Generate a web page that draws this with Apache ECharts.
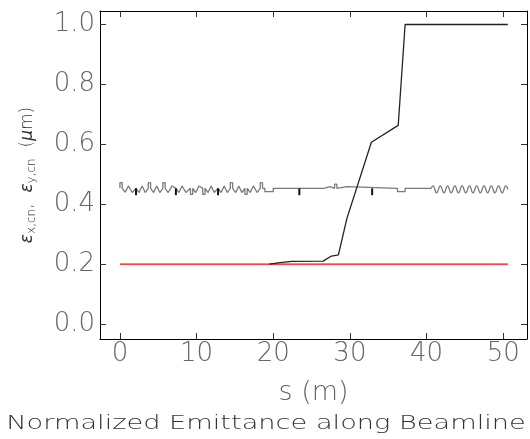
<!DOCTYPE html>
<html><head><meta charset="utf-8">
<script src="https://cdn.jsdelivr.net/npm/echarts@6/dist/echarts.min.js"></script>
<style>html,body{margin:0;padding:0;background:#fff}#c{width:530px;height:439px}</style>
</head><body><div id="c"></div>
<script>
// tick labels
const xTicks = [0, 10, 20, 30, 40, 50];
const yTicks = [0.0, 0.2, 0.4, 0.6, 0.8, 1.0];
// emittance series [s (m), value (um)]
const epsX = [[19.5,0.200],[20.9,0.205],[22.4,0.209],[26.5,0.210],[27.6,0.227],[28.5,0.231],[29.6,0.352],[32.8,0.607],[36.3,0.663],[37.2,1.000],[50.6,1.000]];
const epsY = [[0,0.200],[50.6,0.200]];
// beamline profile (gray)
const profile = [[0,0.453],[0,0.472],[0.3,0.472],[0.3,0.453],
[0.7,0.440],[1.1,0.461],[1.6,0.439],[2.1,0.453],
[2.5,0.439],[2.9,0.461],[3.3,0.439],[3.7,0.453],
[3.7,0.472],[4.0,0.472],[4.0,0.453],
[4.4,0.439],[4.8,0.461],[5.2,0.439],[5.6,0.453],
[5.6,0.472],[5.9,0.472],[5.9,0.453],
[6.3,0.439],[6.8,0.461],[7.3,0.453],
[7.7,0.439],[8.1,0.461],[8.6,0.439],[9.2,0.453],
[9.2,0.433],[9.5,0.433],[9.5,0.453],
[9.9,0.439],[10.3,0.461],[10.8,0.453],
[10.8,0.433],[11.1,0.433],[11.1,0.453],
[11.5,0.439],[11.9,0.461],[12.3,0.439],[12.8,0.453],
[13.2,0.439],[13.6,0.461],[14.0,0.439],[14.4,0.453],
[14.4,0.472],[14.7,0.472],[14.7,0.453],
[15.1,0.439],[15.5,0.461],[15.9,0.439],[16.3,0.453],
[16.3,0.433],[16.6,0.433],[16.6,0.453],
[17.0,0.439],[17.4,0.461],[17.9,0.439],[18.3,0.453],
[18.3,0.472],[18.6,0.472],[18.6,0.453],
[18.9,0.453],[18.9,0.442],[20.0,0.442],[20.0,0.453],
[26.6,0.453],[26.6,0.459],[27.4,0.459],[27.4,0.453],
[28.0,0.453],[28.0,0.467],[28.3,0.467],[28.3,0.453],
[28.5,0.453],[28.5,0.459],[29.6,0.459],[29.6,0.453],
[36.2,0.453],[36.2,0.442],[37.2,0.442],[37.2,0.453],
[40.6,0.453]];
const wiggle = [[40.6,0.453],[40.84,0.461],[41.31,0.438],[41.79,0.461],[42.26,0.438],[42.74,0.461],[43.21,0.438],[43.69,0.461],[44.16,0.438],[44.64,0.461],[45.11,0.438],[45.59,0.461],[46.06,0.438],[46.54,0.461],[47.01,0.438],[47.49,0.461],[47.96,0.438],[48.44,0.461],[48.91,0.438],[49.39,0.461],[49.86,0.438],[50.34,0.461],[50.6,0.449]];
// black markers on beamline: [s, top, bottom]
const markers = [[2.1,0.453,0.430],[7.3,0.453,0.430],[12.8,0.453,0.430],[23.4,0.453,0.430],[32.9,0.453,0.430]];

const FONT = 'DejaVu Sans';
const TXT = '#666';
const chart = echarts.init(document.getElementById('c'), null, {renderer:'canvas'});
const xRange = {min:-2.6, max:53.1};
const yRange = {min:-0.05, max:1.045};
const tickStyle = {show:true, inside:true, length:6, lineStyle:{color:'#333', width:1}};
chart.setOption({
  animation:false,
  grid:{left:100, right:3, top:11, bottom:100},
  xAxis:[{type:'value', ...xRange, position:'bottom',
    axisLine:{show:true, onZero:false, lineStyle:{color:'#000', width:1}},
    axisTick:{...tickStyle, customValues:xTicks},
    axisLabel:{customValues:xTicks, fontFamily:FONT, fontWeight:200, fontSize:26, color:TXT, margin:2},
    splitLine:{show:false},
    name:'s (m)', nameLocation:'middle', nameGap:40,
    nameTextStyle:{fontFamily:FONT, fontWeight:200, fontSize:27, color:TXT}},
   {type:'value', ...xRange, position:'top',
    axisLine:{show:true, onZero:false, lineStyle:{color:'#000', width:1}},
    axisTick:{...tickStyle, customValues:xTicks},
    axisLabel:{show:false}, splitLine:{show:false}}],
  yAxis:[{type:'value', ...yRange, position:'left',
    axisLine:{show:true, onZero:false, lineStyle:{color:'#000', width:1}},
    axisTick:{...tickStyle, customValues:yTicks},
    axisLabel:{customValues:yTicks, fontFamily:FONT, fontWeight:200, fontSize:26, color:TXT, margin:5,
      formatter:v=>v.toFixed(1)},
    splitLine:{show:false},
    name:'{e|ε}{s|x,cn}{n|,  }{e|ε}{s|y,cn}{n|  (}{e|μ}{n|m)}', nameLocation:'middle', nameGap:62,
    nameTextStyle:{fontFamily:FONT, color:'#333', rich:{
      e:{fontFamily:FONT, fontSize:17, fontWeight:200, color:'#333', fontStyle:'italic'},
      n:{fontFamily:FONT, fontSize:17, fontWeight:200, color:'#333'},
      s:{fontFamily:FONT, fontSize:12, fontWeight:200, color:'#333', padding:[9,0,0,0]}}}},
   {type:'value', ...yRange, position:'right',
    axisLine:{show:true, onZero:false, lineStyle:{color:'#000', width:1}},
    axisTick:{...tickStyle, customValues:yTicks},
    axisLabel:{show:false}, splitLine:{show:false}}],
  graphic:[{type:'text', x:266, y:424, scaleX:1.36,
    style:{text:'Normalized Emittance along Beamline', x:0, y:0, align:'center', verticalAlign:'middle',
      font:'200 20px "DejaVu Sans"', fill:'#333'}}],
  series:[
    {type:'line', data:profile, showSymbol:false, lineStyle:{color:'#7a7a7a', width:1.3}, z:2},
    {type:'line', data:wiggle, showSymbol:false, smooth:0.5, lineStyle:{color:'#7a7a7a', width:1.3}, z:2},
    {type:'custom', data:markers, z:3, renderItem:(params, api)=>{
      const a = api.coord([api.value(0), api.value(1)]);
      const b = api.coord([api.value(0), api.value(2)]);
      return {type:'line', shape:{x1:a[0], y1:a[1], x2:b[0], y2:b[1]}, style:{stroke:'#111', lineWidth:2}};
    }},
    {type:'line', data:epsY, showSymbol:false, lineStyle:{color:'#ff0000', width:1.2}, z:4},
    {type:'line', data:epsX, showSymbol:false, lineStyle:{color:'#222', width:1.3}, z:5}
  ]
});
</script></body></html>
